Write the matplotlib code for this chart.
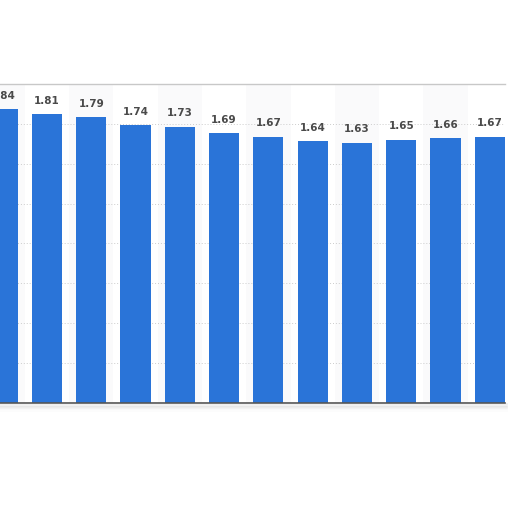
import numpy as np
import matplotlib.pyplot as plt

# values, left to right (first one is cut off in the picture)
labels = ['1.84', '1.81', '1.79', '1.74', '1.73', '1.69', '1.67', '1.64', '1.63', '1.65', '1.66', '1.67']
values = [1.84, 1.81, 1.79, 1.74, 1.73, 1.69, 1.67, 1.64, 1.63, 1.65, 1.66, 1.67]
grid_ticks = [0.25, 0.5, 0.75, 1.0, 1.25, 1.5, 1.75]

fig = plt.figure(figsize=(5.12, 5.12), dpi=100)
fig.patch.set_facecolor('white')
ax = fig.add_axes([0.0, 0.213, 0.986, 0.623])

x = np.arange(len(values))
# faint alternating column bands
for i in x[::2]:
    ax.axvspan(i - 0.5, i + 0.5, color='#fafafb', zorder=0, lw=0)

for t in grid_ticks:
    ax.axhline(t, color='#cccccc', lw=0.7, ls=(0, (1, 2)), zorder=1)

ax.bar(x, values, width=0.68, color='#2a74d8', zorder=2)
for xi, v, lab in zip(x, values, labels):
    ax.text(xi, v + 0.085, lab, ha='center', va='center', fontsize=7.5,
            fontweight='bold', color='#4a4a4a', zorder=3)

ax.set_xlim(-0.061, 11.34)
ax.set_ylim(0, 2.0)
ax.set_xticks([])
ax.set_yticks([])
for side in ['left', 'right']:
    ax.spines[side].set_visible(False)
ax.spines['top'].set_color('#c8c8c8')
ax.spines['top'].set_linewidth(1.0)
ax.spines['bottom'].set_color('#555555')
ax.spines['bottom'].set_linewidth(1.2)

# soft shadow under the baseline
for k in range(1, 7):
    y = 0.213 - k * 0.0025
    fig.add_artist(plt.Line2D([0, 0.99], [y, y], color='#888888',
                              alpha=0.18 * (1 - k / 7), lw=1.2,
                              transform=fig.transFigure))

fig.savefig('out.png', dpi=100, facecolor='white')
